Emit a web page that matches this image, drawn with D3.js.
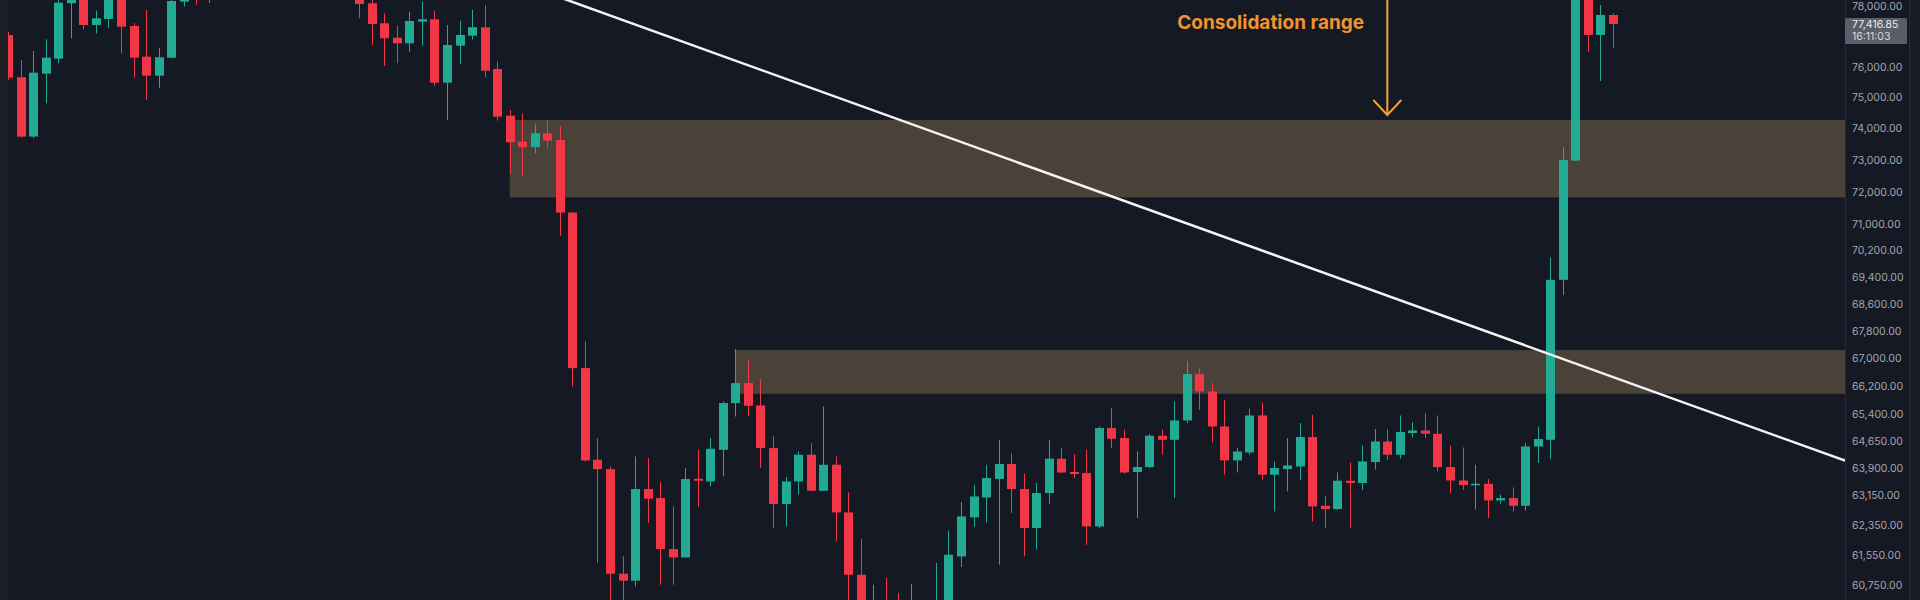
<!DOCTYPE html>
<html><head><meta charset="utf-8">
<script src="https://cdn.jsdelivr.net/npm/d3@7"></script>
<style>html,body{margin:0;padding:0;background:#151924;overflow:hidden}</style>
</head><body><svg id="c" width="1920" height="600"></svg>
<script>
// ---- data (price per candle, index = bar number) ----
const openP = [77048,75653,73740,75771,76264,78111,78480,77382,77583,78380,
77349,76330,75706,76297,78165,79000,78400,78900,79300,79000,
79350,79800,79400,79700,79100,79400,79050,78800,78450,78111,
77439,76959,76773,77492,77573,75477,76693,77025,77305,75925,
74409,73578,73401,73846,73632,71357,66719,64128,63870,61047,
60863,63321,63075,61702,61478,63603,63530,64405,65718,66288,
65650,64452,62912,63530,64267,63275,63990,62684,61020,59750,
60150,59600,59200,59900,59600,60200,61505,62549,63092,63598,
64012,63321,62264,63212,64156,63790,63760,62307,65012,64732,
63790,63926,64796,64684,65225,66546,66048,65057,64109,64330,
65367,63714,63870,63942,64760,62865,62776,63549,63486,64064,
64637,64267,64872,64944,64852,63926,63557,63431,63466,63010,
63075,62866,64497,64684,69312,72977,78800,77049,77717];
const highP = [77150,76221,76518,76905,78300,78650,78600,77861,78550,78500,
77439,77885,76607,78300,78900,79300,79200,79600,79700,79500,
80000,80100,79900,79950,79600,79800,79300,79100,78550,78250,
77774,77359,77828,78165,77861,77382,77526,77885,78054,76165,
74592,74486,74127,74249,74066,71370,67490,64732,63942,61505,
64219,64175,63513,62847,63898,64405,64732,65763,67268,66958,
66402,64776,63650,64358,64592,65621,64219,63228,61968,60757,
60934,60540,60770,60300,61330,62191,62969,63439,63990,64684,
64302,63749,63486,64684,64466,64280,64405,65058,65576,64964,
64358,64844,64964,65763,66929,66719,66288,65811,64452,65556,
65735,64081,64732,65152,65387,63138,63777,64053,64525,64984,
64984,65367,65180,65435,65367,64517,64469,63990,63595,63166,
63365,64592,65048,69983,73401,79000,79100,78054,77774];
const lowP = [75560,73711,73696,74808,76112,76939,77238,77105,77272,76442,
75640,74915,75314,76280,77996,78054,78121,78600,78800,78700,
79100,79200,79000,78900,78800,78900,78600,78350,77606,76717,
76023,76112,76495,76693,75369,74271,76089,76905,75653,74249,
72559,72484,73204,73369,70642,66190,64081,61330,60100,60050,
60713,62398,60757,60757,61462,62830,63392,63667,65338,65358,
63898,62264,62307,63166,63256,63270,61904,60300,59500,59300,
59100,58900,58800,59300,59400,59900,61224,62299,62406,61285,
62668,61505,61683,62920,63770,63623,61816,62264,64452,63741,
62533,63900,64267,63075,65152,65528,64609,63714,63777,64267,
63576,62711,63256,63576,62441,62264,62757,62272,63302,63851,
64128,64156,64748,64732,63804,63212,63302,62757,62533,62920,
62711,62738,64037,64142,68865,72970,76495,75532,76627];
const closeP = [75640,73737,75804,76297,78131,78500,77382,77606,78400,77325,
76297,75706,76310,78188,78700,78400,78900,79300,79000,79350,
79800,79400,79700,79100,79400,79050,78800,78450,78087,77415,
76939,76773,77516,77573,75477,76717,77049,77305,75869,74377,
73559,73401,73846,73610,71357,66719,64109,63870,61047,60863,
63321,63056,61702,61478,63595,63549,64433,65718,66288,65641,
64452,62912,63530,64267,63275,63990,62684,61020,59800,60150,
59600,59200,59900,59600,60200,61550,62576,63119,63623,64012,
63321,62264,63212,64156,63777,63733,62307,65012,64712,63777,
63926,64796,64684,65225,66546,66048,65057,64109,64358,65367,
63714,63898,63970,64760,62847,62776,63549,63486,64081,64637,
64267,64900,64944,64852,63926,63557,63431,63466,63010,63075,
62866,64497,64704,69312,72999,78800,77049,77717,77416.85];

const axisTicks = [78000,76000,75000,74000,73000,72000,71000,70200,69400,68600,
67800,67000,66200,65400,64650,63900,63150,62350,61550,60750];
const lastPrice = 77416.85;
const lastTime = "16:11:03";

const zoneStartIdx = [40, 58];
const zoneTopP = [74271, 67239];
const zoneBottomP = [71827, 65982];

const trendIdx = [40, 140];
const trendPrice = [78925, 64922];

const noteText = "Consolidation range";
const noteIdx = 100.7, notePrice = 77232;
const arrowIdx = 110, arrowTipPrice = 74430, arrowTopPrice = 78500;

// ---- drawing ----
const W = 1920, H = 600, plotL = 8, plotR = 1845;
const svg = d3.select("#c");
const bg = "#151924";
const upC = "#22ab94", dnC = "#f23645";

svg.append("rect").attr("width", W).attr("height", H).attr("fill", bg);

const x = d3.scaleLinear().domain([0, 128]).range([8.16, 1613]);
const y = d3.scaleLog().domain([78222, 60357]).range([0, H]);
const step = x(1) - x(0);
const bw = Math.round(step * 0.72);

svg.append("clipPath").attr("id", "plot").append("rect")
  .attr("x", plotL).attr("y", 0).attr("width", plotR - plotL).attr("height", H);
const g = svg.append("g").attr("clip-path", "url(#plot)");

// zones
const zoneColor = "#4a4139";
g.selectAll("rect.zone").data(zoneStartIdx).join("rect").attr("class", "zone")
  .attr("x", d => x(d)).attr("width", (d) => plotR - x(d))
  .attr("y", (d, i) => y(zoneTopP[i]))
  .attr("height", (d, i) => y(zoneBottomP[i]) - y(zoneTopP[i]))
  .attr("fill", zoneColor);

// candles
const idx = d3.range(openP.length);
const col = i => closeP[i] >= openP[i] ? upC : dnC;
g.selectAll("line.wick").data(idx).join("line").attr("class", "wick")
  .attr("x1", i => Math.round(x(i)) + 0.5).attr("x2", i => Math.round(x(i)) + 0.5)
  .attr("y1", i => y(highP[i])).attr("y2", i => y(lowP[i]))
  .attr("stroke", col).attr("stroke-width", 1);
g.selectAll("rect.body").data(idx).join("rect").attr("class", "body")
  .attr("x", i => Math.round(x(i)) + 0.5 - bw / 2)
  .attr("width", bw)
  .attr("y", i => y(Math.max(openP[i], closeP[i])))
  .attr("height", i => Math.max(1.5, Math.abs(y(openP[i]) - y(closeP[i]))))
  .attr("fill", col);

// trend line extended across plot
const ax = x(trendIdx[0]), ay = y(trendPrice[0]);
const bx = x(trendIdx[1]), by = y(trendPrice[1]);
const slope = (by - ay) / (bx - ax);
const x0 = ax - (ay + 5) / slope;
g.append("line").attr("x1", x0).attr("y1", ay + (x0 - ax) * slope)
  .attr("x2", plotR).attr("y2", ay + (plotR - ax) * slope)
  .attr("stroke", "#f4f4f4").attr("stroke-width", 2.5);

// annotation
g.append("text").attr("x", x(noteIdx)).attr("y", y(notePrice))
  .attr("text-anchor", "middle").attr("fill", "#ef9430")
  .attr("font-family", "Inter, 'Open Sans', sans-serif").attr("font-weight", 700)
  .attr("font-size", 19).text(noteText);
const axX = x(arrowIdx), tipY = y(arrowTipPrice);
g.append("line").attr("x1", axX).attr("x2", axX).attr("y1", y(arrowTopPrice)).attr("y2", tipY)
  .attr("stroke", "#f3a132").attr("stroke-width", 2);
g.append("path").attr("d", `M${axX - 13.5},${tipY - 14.5}L${axX},${tipY}L${axX + 13.5},${tipY - 14.5}`)
  .attr("fill", "none").attr("stroke", "#f3a132").attr("stroke-width", 2).attr("stroke-linecap", "round");

// left strip
svg.append("rect").attr("x", 0).attr("width", plotL).attr("height", H).attr("fill", "#1d1f24");

// price axis
const axisG = svg.append("g").attr("transform", `translate(${plotR},0)`)
  .call(d3.axisRight(y).tickValues(axisTicks).tickFormat(d3.format(",.2f")).tickSize(0).tickPadding(7));
axisG.select(".domain").attr("stroke", "#2a2e39").attr("d", `M0.5,0V${H}`);
axisG.selectAll("text").attr("fill", "#a3a6af").attr("font-family", "Inter, Roboto, sans-serif")
  .attr("font-size", 10.5);

// last price label
const ly = y(lastPrice);
const lab = svg.append("g");
lab.append("rect").attr("x", plotR).attr("y", ly - 6).attr("width", 62).attr("height", 26)
  .attr("rx", 1.5).attr("fill", "#5b5e69");
lab.append("text").attr("x", plotR + 7).attr("y", ly).attr("dy", "0.35em")
  .attr("fill", "#eceef2").attr("font-family", "Inter, Roboto, sans-serif").attr("font-size", 10.5)
  .text(d3.format(",.2f")(lastPrice));
lab.append("text").attr("x", plotR + 7).attr("y", ly + 12).attr("dy", "0.35em")
  .attr("fill", "#d9dbe0").attr("font-family", "Inter, Roboto, sans-serif").attr("font-size", 10.5)
  .text(lastTime);

// right edge strip
svg.append("line").attr("x1", 1909.5).attr("x2", 1909.5).attr("y1", 0).attr("y2", H)
  .attr("stroke", "#2a2c33");
svg.append("rect").attr("x", 1910).attr("width", 10).attr("height", H).attr("fill", "#1b1c21");
</script></body></html>
